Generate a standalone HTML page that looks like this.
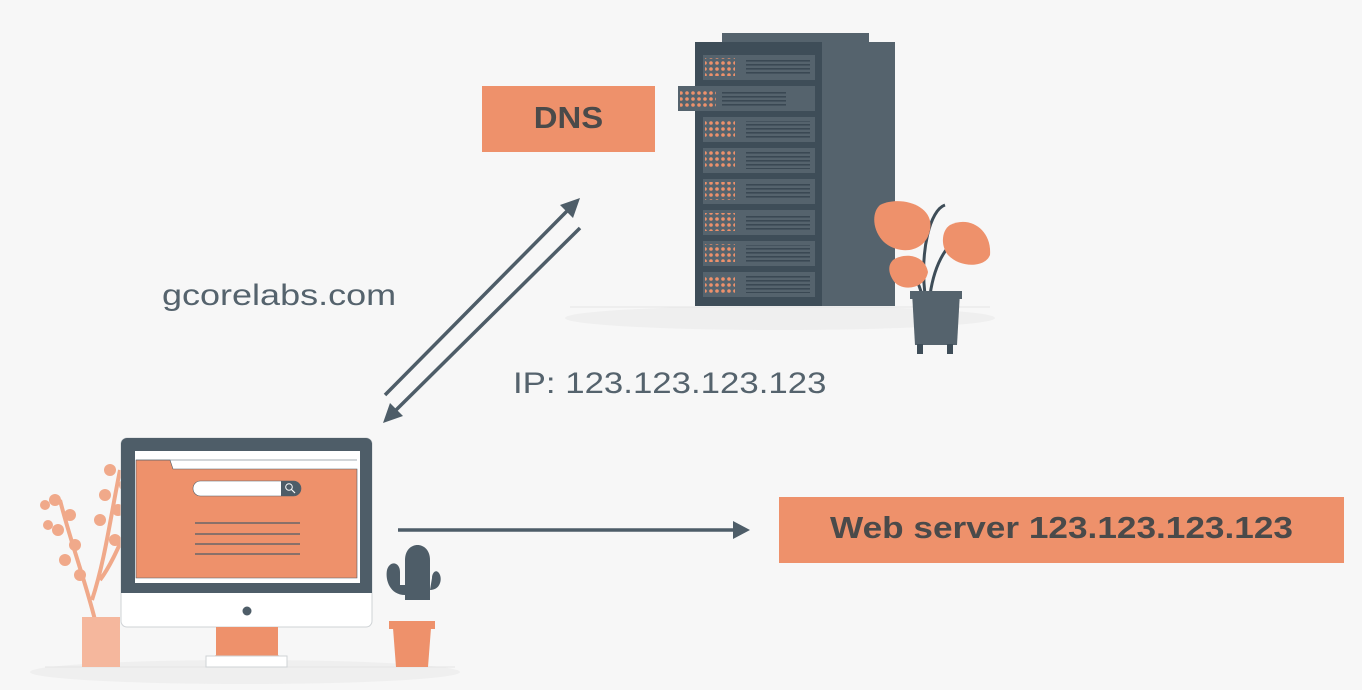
<!DOCTYPE html>
<html><head><style>
html,body{margin:0;padding:0;background:#f7f7f7;}
body{width:1362px;height:690px;overflow:hidden;position:relative;font-family:"Liberation Sans",sans-serif;}
.t{position:absolute;white-space:nowrap;}
</style></head><body>
<svg width="1362" height="690" style="position:absolute;left:0;top:0">
<defs>
<pattern id="dots" width="6" height="6" patternUnits="userSpaceOnUse"><circle cx="3" cy="3" r="1.8" fill="#ee916b"/></pattern>
<pattern id="lines" width="4" height="4" patternUnits="userSpaceOnUse"><rect width="4" height="1.6" fill="#3a4853"/></pattern>
</defs>
<ellipse cx="780" cy="318" rx="215" ry="12" fill="#efefef"/>
<line x1="570" y1="307" x2="990" y2="307" stroke="#e4e4e4" stroke-width="1"/>
<ellipse cx="245" cy="672" rx="215" ry="12" fill="#efefef"/>
<line x1="45" y1="667" x2="455" y2="667" stroke="#e4e4e4"/>
<rect x="482" y="86" width="173" height="66" fill="#ee916b"/>
<rect x="779" y="497" width="565" height="66" fill="#ee916b"/>
<rect x="722" y="33" width="147" height="12" fill="#55636d"/>
<rect x="695" y="42" width="200" height="264" fill="#55636d"/>
<rect x="695" y="42" width="127" height="264" fill="#3e4d58"/>
<g fill="#55636d">
<rect x="703" y="55" width="112" height="25"/>
<rect x="703" y="117" width="112" height="25"/>
<rect x="703" y="148" width="112" height="25"/>
<rect x="703" y="179" width="112" height="25"/>
<rect x="703" y="210" width="112" height="25"/>
<rect x="703" y="241" width="112" height="25"/>
<rect x="703" y="272" width="112" height="25"/>
<rect x="678" y="86" width="137" height="25"/>
</g>
<g fill="url(#dots)">
<rect x="705" y="58" width="30" height="18"/>
<rect x="705" y="120" width="30" height="18"/>
<rect x="705" y="151" width="30" height="18"/>
<rect x="705" y="182" width="30" height="18"/>
<rect x="705" y="213" width="30" height="18"/>
<rect x="705" y="244" width="30" height="18"/>
<rect x="705" y="275" width="30" height="18"/>
<rect x="680" y="89" width="36" height="18"/>
</g>
<g fill="url(#lines)">
<rect x="746" y="59" width="64" height="17"/>
<rect x="746" y="121" width="64" height="17"/>
<rect x="746" y="152" width="64" height="17"/>
<rect x="746" y="183" width="64" height="17"/>
<rect x="746" y="214" width="64" height="17"/>
<rect x="746" y="245" width="64" height="17"/>
<rect x="746" y="276" width="64" height="17"/>
<rect x="722" y="90" width="64" height="17"/>
</g>
<path d="M925 295 C920 250 930 210 945 205 M930 295 C935 260 950 240 960 240 M922 295 C915 270 905 262 900 262" stroke="#3e4d58" stroke-width="3" fill="none"/>
<path d="M880 205 C900 195 935 205 930 230 C925 255 895 255 882 240 C872 228 872 212 880 205Z" fill="#ee916b"/>
<path d="M950 225 C970 215 992 230 990 255 C985 268 960 268 948 255 C940 245 942 230 950 225Z" fill="#ee916b"/>
<path d="M893 260 C905 252 925 255 928 272 C925 290 900 292 893 280 C888 272 888 265 893 260Z" fill="#ee916b"/>
<path d="M912 292 L960 292 L957 345 L915 345Z" fill="#55636d"/>
<rect x="910" y="291" width="52" height="8" fill="#55636d"/>
<rect x="917" y="344" width="6" height="10" fill="#3e4d58"/><rect x="947" y="344" width="6" height="10" fill="#3e4d58"/>
<g stroke="#4e5d68" stroke-width="3.5" fill="#4e5d68">
<line x1="385" y1="395" x2="570" y2="208"/>
<line x1="580" y1="228" x2="393" y2="413"/>
<line x1="398" y1="530" x2="735" y2="530"/>
</g>
<g fill="#4e5d68">
<polygon points="580,198 560,205 573,218"/>
<polygon points="383,423 390,403 403,416"/>
<polygon points="750,530 733,521 733,539"/>
</g>
<path d="M95 620 C85 580 70 540 60 500 M92 600 C105 560 110 520 120 470 M100 580 C115 560 125 530 140 500" stroke="#f0a98a" stroke-width="4" fill="none"/>
<g fill="#f0a98a">
<circle cx="55" cy="500" r="6"/><circle cx="70" cy="515" r="6"/><circle cx="58" cy="530" r="6"/><circle cx="75" cy="545" r="6"/><circle cx="65" cy="560" r="6"/><circle cx="80" cy="575" r="6"/>
<circle cx="110" cy="470" r="6"/><circle cx="125" cy="485" r="6"/><circle cx="105" cy="495" r="6"/><circle cx="118" cy="510" r="6"/><circle cx="100" cy="520" r="6"/><circle cx="115" cy="540" r="6"/><circle cx="130" cy="465" r="6"/>
<circle cx="45" cy="505" r="5"/><circle cx="48" cy="525" r="5"/>
</g>
<rect x="82" y="617" width="38" height="50" fill="#f5b79d"/>
<rect x="121" y="438" width="251" height="189" rx="6" fill="#fff" stroke="#cfd3d6"/>
<path d="M127 438 H366 A6 6 0 0 1 372 444 V593 H121 V444 A6 6 0 0 1 127 438Z" fill="#4e5d68"/>
<rect x="135" y="451" width="225" height="132" fill="#fff"/>
<path d="M136 460 H170 L173 469 H357 V578 H136Z" fill="#ee916b" stroke="#4e5d68" stroke-width="0.6"/>
<line x1="136" y1="460" x2="357" y2="460" stroke="#4e5d68" stroke-width="0.6"/>
<rect x="193" y="481" width="108" height="15" rx="7.5" fill="#fff" stroke="#4e5d68" stroke-width="0.6"/>
<path d="M281 481 H293.5 A7.5 7.5 0 0 1 293.5 496 H281Z" fill="#4e5d68"/>
<circle cx="289" cy="487" r="3.3" fill="none" stroke="#fff" stroke-width="1"/><line x1="291.5" y1="489.5" x2="295" y2="493" stroke="#fff" stroke-width="1.2"/>
<g stroke="#4e5d68" stroke-width="1.2"><line x1="195" y1="523" x2="300" y2="523"/><line x1="195" y1="534" x2="300" y2="534"/><line x1="195" y1="544" x2="300" y2="544"/><line x1="195" y1="554" x2="300" y2="554"/></g>
<circle cx="247" cy="611" r="4.5" fill="#4e5d68"/>
<path d="M216 627 H278 V655 L287 660 V667 H206 V660 L216 655Z" fill="#ee916b"/>
<rect x="206" y="656" width="81" height="11" fill="#fff" stroke="#cfd3d6"/>
<path d="M405 600 V560 C405 540 430 540 430 560 V600Z" fill="#4e5d68"/>
<path d="M405 595 C390 595 385 580 387 570 C390 560 400 562 400 572 V585 H405Z" fill="#4e5d68"/>
<path d="M430 590 C440 590 442 580 440 575 C437 568 432 572 432 578Z" fill="#4e5d68"/>
<rect x="389" y="621" width="46" height="8" fill="#ee916b"/>
<path d="M393 628 H431 L428 667 H396Z" fill="#ee916b"/>
</svg>
<div class="t" style="left:482px;top:100px;width:173px;text-align:center;font-weight:bold;font-size:31px;color:#4a4a4a;transform:scaleX(1.06)">DNS</div>
<div class="t" style="left:779px;top:510px;width:565px;text-align:center;font-weight:bold;font-size:31px;color:#4a4a4a;transform:scaleX(1.135)">Web server 123.123.123.123</div>
<div class="t" style="left:162px;top:279px;font-size:30px;color:#55636d;transform:scaleX(1.2);transform-origin:left">gcorelabs.com</div>
<div class="t" style="left:513px;top:367px;font-size:30px;color:#55636d;transform:scaleX(1.16);transform-origin:left">IP: 123.123.123.123</div>
</body></html>
